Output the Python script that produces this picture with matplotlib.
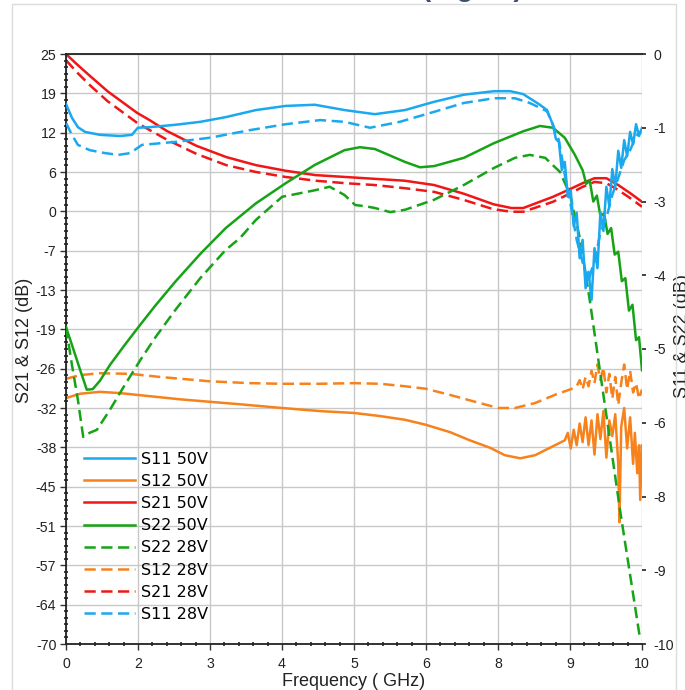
import numpy as np
import matplotlib
matplotlib.use('Agg')
import matplotlib.pyplot as plt
from matplotlib.ticker import AutoMinorLocator, FixedLocator, FixedFormatter
from matplotlib.patches import Rectangle

# ---- S21 (left axis, dB) ----
f_s21 = [0.3, 0.5, 0.7, 1.0, 1.3, 1.5, 1.7, 2.0, 2.5, 3.0, 3.5, 4.0, 4.5, 5.0, 5.5,
         6.0, 6.5, 7.0, 7.5, 7.8, 8.0, 8.5, 8.8, 9.0, 9.2, 9.4, 9.6, 9.8, 10.0]
s21_50v = [25.0, 23.2, 21.5, 19.0, 16.9, 15.5, 14.4, 12.6, 10.2, 8.4, 7.1, 6.2, 5.5, 5.2, 4.9,
           4.6, 3.9, 2.5, 0.8, 0.2, 0.2, 2.0, 3.3, 4.2, 5.0, 5.0, 3.9, 2.6, 1.2]
s21_28v = [24.0, 21.9, 20.0, 17.4, 15.3, 13.9, 12.8, 11.2, 8.9, 7.1, 6.0, 5.2, 4.6, 4.2, 3.9,
           3.4, 2.8, 1.5, 0.0, -0.4, -0.4, 1.2, 2.6, 3.6, 4.4, 4.2, 3.1, 1.8, 0.4]

# ---- S12 (left axis, dB) ----
f_s12_50v = [0.30, 0.54, 0.87, 1.21, 1.71, 2.22, 2.72, 3.23, 3.94, 4.58,
             5.15, 5.59, 6.01, 6.36, 6.77, 7.10, 7.44, 7.69, 7.95, 8.20,
             8.45, 8.70, 8.75, 8.80, 8.85, 8.90, 8.95, 9.00, 9.05, 9.10,
             9.15, 9.20, 9.25, 9.30, 9.35, 9.40, 9.45, 9.50, 9.55, 9.60,
             9.62, 9.65, 9.70, 9.75, 9.80, 9.85, 9.88, 9.92, 9.95, 9.97, 10.00]
s12_50v = [-30.4, -29.7, -29.4, -29.6, -30.1, -30.6, -31.0, -31.4, -32.0, -32.5,
           -32.8, -33.3, -33.9, -34.7, -35.9, -37.2, -38.4, -39.6, -40.1, -39.6,
           -38.4, -37.2, -36.0, -38.5, -35.5, -38.0, -34.5, -37.5, -33.5, -38.0,
           -34.0, -39.5, -33.0, -37.0, -32.5, -40.0, -34.0, -36.5, -33.0, -41.0,
           -50.4, -35.0, -32.0, -38.5, -33.5, -41.0, -36.0, -42.5, -38.0, -46.8, -38.0]
f_s12_28v = [0.30, 0.54, 0.87, 1.38, 1.88, 2.72, 3.40, 3.94, 4.58, 5.15,
             5.59, 6.01, 6.36, 6.77, 7.19, 7.58, 7.86, 8.20, 8.53, 8.85,
             8.90, 8.95, 9.00, 9.05, 9.10, 9.15, 9.20, 9.25, 9.30, 9.35,
             9.40, 9.45, 9.50, 9.55, 9.60, 9.65, 9.70, 9.75, 9.80, 9.85,
             9.90, 9.95, 10.00]
s12_28v = [-27.3, -26.7, -26.4, -26.5, -27.0, -27.7, -28.0, -28.1, -28.1, -28.0,
           -28.1, -28.5, -28.9, -29.9, -31.0, -32.0, -32.0, -31.2, -29.9, -28.8,
           -28.5, -27.5, -29.0, -27.0, -28.5, -26.0, -28.0, -25.0, -27.5, -25.5,
           -29.5, -26.5, -30.5, -27.0, -31.5, -28.0, -25.0, -29.0, -26.0, -29.5,
           -28.0, -30.5, -29.0]

# ---- S11 (right axis, dB) ----
f_s11_50v = [0.30, 0.40, 0.50, 0.62, 0.87, 1.21, 1.41, 1.51, 1.71, 2.14, 2.56, 2.99, 3.50,
             4.00, 4.49, 4.99, 5.50, 6.01, 6.50, 7.00, 7.51, 7.78, 8.00, 8.28, 8.40,
             8.50, 8.55, 8.60, 8.65, 8.70, 8.75, 8.80, 8.85, 8.90, 8.95, 9.00, 9.05,
             9.10, 9.15, 9.20, 9.25, 9.30, 9.35, 9.40, 9.45, 9.50, 9.55, 9.60, 9.65,
             9.70, 9.75, 9.80, 9.85, 9.90, 9.95, 10.00]
s11_50v = [-0.85, -1.08, -1.24, -1.32, -1.37, -1.39, -1.37, -1.25, -1.24, -1.20, -1.15, -1.07, -0.95,
           -0.88, -0.86, -0.95, -1.02, -0.95, -0.81, -0.69, -0.63, -0.63, -0.68, -0.86, -0.95,
           -1.20, -1.44, -1.49, -1.97, -1.83, -2.42, -2.31, -2.92, -2.69, -3.46, -3.15, -3.97,
           -3.69, -4.17, -3.29, -3.63, -2.68, -3.00, -2.25, -2.58, -1.95, -2.25, -1.64, -1.93,
           -1.46, -1.73, -1.32, -1.53, -1.19, -1.39, -1.25]
f_s11_28v = [0.30, 0.40, 0.50, 0.70, 0.96, 1.18, 1.38, 1.58, 2.14, 2.72, 3.40, 4.00, 4.58, 4.99,
             5.42, 5.92, 6.50, 7.00, 7.51, 7.86, 8.11, 8.40, 8.50, 8.60, 8.70, 8.80, 8.90,
             9.00, 9.05, 9.10, 9.15, 9.20, 9.30, 9.40, 9.50, 9.60, 9.70, 9.80, 9.90, 10.00]
s11_28v = [-1.17, -1.37, -1.54, -1.63, -1.68, -1.71, -1.68, -1.54, -1.49, -1.42, -1.29, -1.19, -1.12, -1.15,
           -1.25, -1.15, -0.98, -0.83, -0.75, -0.75, -0.83, -0.97, -1.20, -1.46, -2.05, -2.56, -3.15,
           -3.53, -3.69, -3.86, -3.66, -3.53, -3.02, -2.78, -2.39, -2.10, -1.80, -1.63, -1.39, -1.29]

# ---- S22 (right axis, dB) ----
f_s22_50v = [0.30, 0.40, 0.54, 0.65, 0.75, 0.87, 1.04, 1.29, 1.55, 1.80,
             2.14, 2.56, 2.99, 3.50, 4.00, 4.49, 4.99, 5.25, 5.50, 6.01,
             6.26, 6.50, 7.00, 7.51, 8.00, 8.28, 8.50, 8.70, 8.87, 9.00,
             9.06, 9.12, 9.18, 9.24, 9.30, 9.36, 9.42, 9.48, 9.54, 9.60,
             9.66, 9.72, 9.78, 9.84, 9.90, 9.95, 10.00]
s22_50v = [-4.63, -4.93, -5.36, -5.69, -5.68, -5.54, -5.27, -4.93, -4.59, -4.27,
           -3.86, -3.39, -2.95, -2.53, -2.19, -1.88, -1.63, -1.58, -1.61, -1.83,
           -1.92, -1.90, -1.76, -1.51, -1.31, -1.22, -1.25, -1.42, -1.71, -1.97,
           -2.20, -2.15, -2.50, -2.40, -2.75, -2.70, -3.05, -2.95, -3.40, -3.35,
           -3.85, -3.80, -4.35, -4.25, -4.85, -4.80, -5.36]
f_s22_28v = [0.30, 0.40, 0.50, 0.59, 0.70, 0.82, 1.04, 1.29, 1.55, 1.80,
             2.14, 2.56, 2.99, 3.23, 3.50, 3.94, 4.49, 4.74, 4.99, 5.17,
             5.34, 5.50, 5.76, 6.01, 6.50, 7.00, 7.51, 7.86, 8.11, 8.37,
             8.62, 8.79, 8.96, 9.12, 9.29, 9.46, 9.63, 9.80, 9.97]
s22_28v = [-4.63, -5.27, -5.86, -6.49, -6.42, -6.37, -6.03, -5.61, -5.19, -4.81,
           -4.34, -3.80, -3.32, -3.12, -2.81, -2.42, -2.31, -2.25, -2.39, -2.56,
           -2.58, -2.61, -2.68, -2.64, -2.47, -2.22, -1.93, -1.76, -1.71, -1.76,
           -2.00, -2.39, -3.15, -4.17, -5.36, -6.54, -7.73, -8.83, -9.93]

legend_order = ['S11 50V', 'S12 50V', 'S21 50V', 'S22 50V',
                'S22 28V', 'S12 28V', 'S21 28V', 'S11 28V']

BLUE = '#1aa8ee'
ORANGE = '#f7821c'
RED = '#f01616'
GREEN = '#16a316'
LW = 1.8
DASH = (4.5, 2.2)


def excel_round(v):
    # half away from zero, like the spreadsheet axis labels
    r = int(np.floor(abs(v) + 0.5))
    return str(-r if v < 0 and r != 0 else r)


plt.rcParams['font.family'] = ['Liberation Sans', 'DejaVu Sans']

fig = plt.figure(figsize=(6.85, 6.9), dpi=100)
ax = fig.add_axes([66 / 685, 46 / 690, 576 / 685, 590 / 690])
ax2 = ax.twinx()

ax.set_xlim(0.3, 10)
ax.set_ylim(-70, 25)
ax2.set_ylim(-10, 0)

xt = np.linspace(0.3, 10, 9)
yt = np.linspace(-70, 25, 16)
y2t = np.linspace(-10, 0, 9)

ax.xaxis.set_major_locator(FixedLocator(xt))
ax.xaxis.set_major_formatter(FixedFormatter([excel_round(v) for v in xt]))
ax.yaxis.set_major_locator(FixedLocator(yt))
ax.yaxis.set_major_formatter(FixedFormatter([excel_round(v) for v in yt]))
ax2.yaxis.set_major_locator(FixedLocator(y2t))
ax2.yaxis.set_major_formatter(FixedFormatter([excel_round(v) for v in y2t]))
ax.xaxis.set_minor_locator(AutoMinorLocator(5))
ax.yaxis.set_minor_locator(AutoMinorLocator(6))

ax.grid(True, which='major', color='#c8c8c8', lw=1.0)
ax.set_axisbelow(True)

for sp in ['left', 'bottom', 'top']:
    ax.spines[sp].set_color('#222222')
    ax.spines[sp].set_linewidth(1.3)
ax.spines['right'].set_visible(False)
for sp in ax2.spines.values():
    sp.set_visible(False)

ax.tick_params(axis='both', which='major', direction='out', length=4, width=1,
               color='#333333', labelsize=10.2, labelcolor='#222222')
ax.tick_params(axis='x', which='major', pad=5)
ax.tick_params(axis='y', which='major', pad=3)
ax.tick_params(axis='both', which='minor', direction='inout', length=3.5, width=1.2, color='#222222')
ax2.tick_params(axis='y', which='major', direction='out', length=3, width=1.2,
                color='#222222', labelsize=10.2, labelcolor='#222222', pad=5)

# left-axis curves
h = {}
h['S21 50V'], = ax.plot(f_s21, s21_50v, color=RED, lw=LW)
h['S21 28V'], = ax.plot(f_s21, s21_28v, color=RED, lw=LW, dashes=DASH)
h['S12 50V'], = ax.plot(f_s12_50v, s12_50v, color=ORANGE, lw=LW)
h['S12 28V'], = ax.plot(f_s12_28v, s12_28v, color=ORANGE, lw=LW, dashes=DASH)

# right-axis curves
h['S22 50V'], = ax2.plot(f_s22_50v, s22_50v, color=GREEN, lw=LW)
h['S22 28V'], = ax2.plot(f_s22_28v, s22_28v, color=GREEN, lw=LW, dashes=DASH)
h['S11 50V'], = ax2.plot(f_s11_50v, s11_50v, color=BLUE, lw=LW)
h['S11 28V'], = ax2.plot(f_s11_28v, s11_28v, color=BLUE, lw=LW, dashes=DASH)

ax2.legend([h[k] for k in legend_order], legend_order, loc='upper left',
           bbox_to_anchor=(0.031, 0.326), borderaxespad=0, borderpad=0,
           frameon=False, handlelength=3.2, handletextpad=0.35, labelspacing=0.45,
           prop={'family': 'DejaVu Sans', 'size': 11.5})

ax.set_xlabel('Frequency ( GHz)', fontsize=13, color='#222222', labelpad=2)
ax.set_ylabel('S21 & S12 (dB)', fontsize=13, color='#222222')
ax.yaxis.set_label_coords(-0.057, 0.515)
ax2.set_ylabel('S11 & S22 (dB)', fontsize=13, color='#222222')
ax2.yaxis.set_label_coords(1.056, 0.522)

# slide frame and cropped heading above the chart
fig.patches.append(Rectangle((12 / 685, -0.01), 664 / 685, 1 - 4 / 690 + 0.01,
                             transform=fig.transFigure, fill=False,
                             edgecolor='#dcdcdc', lw=1.0))
fig.text(472 / 685, 1 + 4 / 690, '(Signal)', ha='center', va='baseline',
         fontsize=20, fontweight='bold', color='#3e4f6f')

fig.savefig('out.png', dpi=100)
